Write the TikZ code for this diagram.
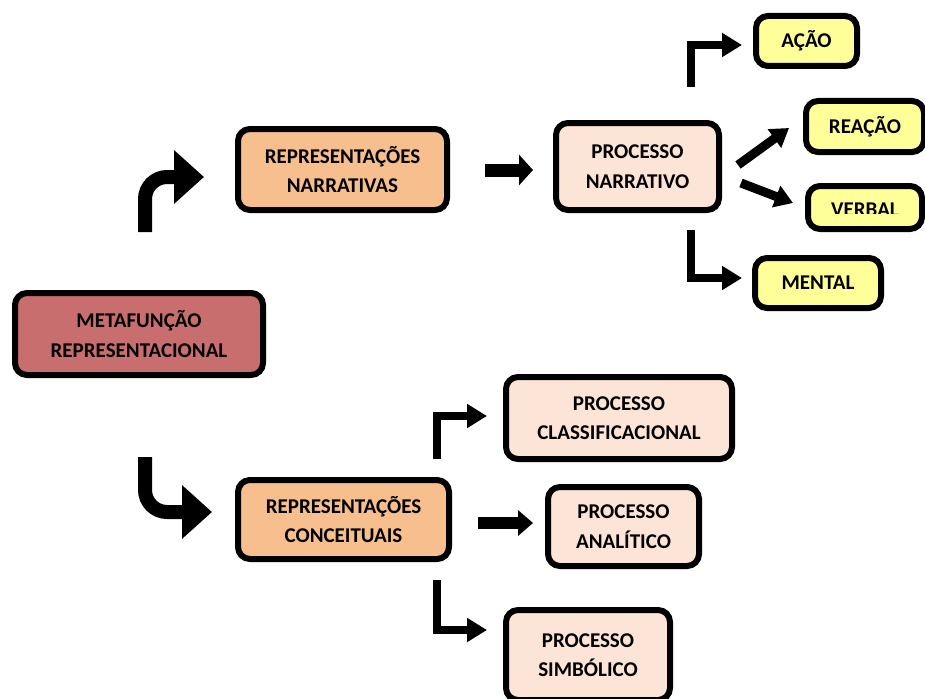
\documentclass[tikz,border=0pt]{standalone}
\usepackage{fontspec}
\setmainfont{Carlito}
\usetikzlibrary{arrows.meta}

\definecolor{metared}{HTML}{C86E6E}
\definecolor{peach}{HTML}{F7BE8E}
\definecolor{palepeach}{HTML}{FCE4D6}
\definecolor{paleyellow}{HTML}{FFFF99}

\tikzset{
  box/.style={draw=black, line width=6pt, rounded corners=12pt, align=center,
    inner sep=0pt, text=black, font=\bfseries\fontsize{21}{29.5}\selectfont},
  label text/.style={inner sep=0pt, text=black, font=\bfseries\fontsize{21}{29.5}\selectfont},
  bigcurve/.style={line width=14pt, rounded corners=22pt,
    -{Triangle[length=30pt,width=52pt]}},
  blockarrow/.style={line width=13pt, -{Triangle[length=14pt,width=30pt]}},
  bent/.style={line width=8.5pt, -{Triangle[length=20pt,width=23pt]}},
  diag/.style={line width=9pt, -{Triangle[length=18pt,width=22pt]}},
}

\begin{document}
\begin{tikzpicture}[x=1pt,y=-1pt, line join=miter]
\useasboundingbox (0,0) rectangle (925,698);
\clip (0,0) rectangle (925,698);

% main box
\node[box, fill=metared, minimum width=248pt, minimum height=82pt] (meta) at (139,334)
  {METAFUNÇÃO\\REPRESENTACIONAL};

% narrative branch
\node[box, fill=peach, minimum width=209pt, minimum height=81pt] (narr) at (342.5,169.5)
  {REPRESENTAÇÕES\\NARRATIVAS};
\node[box, fill=palepeach, minimum width=163pt, minimum height=87pt] (pnarr) at (637.5,166.5)
  {PROCESSO\\NARRATIVO};
\node[box, fill=paleyellow, minimum width=101pt, minimum height=50pt] (acao) at (806.5,41)
  {AÇÃO};
\node[box, fill=paleyellow, minimum width=118pt, minimum height=51pt] (reacao) at (865,126.5)
  {REAÇÃO};
\node[box, fill=paleyellow, minimum width=114pt, minimum height=43pt] (verbal) at (865,207.5) {};
% the label of this box is cut off along its lower edge
\begin{scope}
  \clip (805,183) rectangle (925,213.8);
  \node[label text, anchor=base] (verbaltext) at (865,216.8) {VERBAL};
\end{scope}
\node[box, fill=paleyellow, minimum width=126pt, minimum height=50pt] (mental) at (818,283)
  {MENTAL};

% conceptual branch
\node[box, fill=peach, minimum width=211pt, minimum height=79pt] (conc) at (343.5,519.5)
  {REPRESENTAÇÕES\\CONCEITUAIS};
\node[box, fill=palepeach, minimum width=226pt, minimum height=82pt] (pclass) at (619,418)
  {PROCESSO\\CLASSIFICACIONAL};
\node[box, fill=palepeach, minimum width=151pt, minimum height=79pt] (panal) at (623.5,526.5)
  {PROCESSO\\ANALÍTICO};
\node[box, fill=palepeach, minimum width=164pt, minimum height=90pt] (psimb) at (588,655)
  {PROCESSO\\SIMBÓLICO};

% arrow end points
\coordinate (up0) at (145,232);    \coordinate (up1) at (204,177);
\coordinate (dn0) at (145,457);    \coordinate (dn1) at (212,512);
\coordinate (n0) at (485,170);     \coordinate (n1) at (533,170);
\coordinate (a0) at (691,87);      \coordinate (a1) at (742,45);
\coordinate (r0) at (738,165);     \coordinate (r1) at (789,128);
\coordinate (v0) at (741,183);     \coordinate (v1) at (793,203);
\coordinate (m0) at (691,230);     \coordinate (m1) at (742,278);
\coordinate (c0) at (437,459);     \coordinate (c1) at (487,416);
\coordinate (an0) at (478,523);    \coordinate (an1) at (533,523);
\coordinate (s0) at (437,580);     \coordinate (s1) at (487,630);

% arrows
\draw[bigcurve] (up0) |- (up1);
\draw[bigcurve] (dn0) |- (dn1);
\draw[blockarrow] (n0) -- (n1);
\draw[bent] (a0) |- (a1);
\draw[diag] (r0) -- (r1);
\draw[diag] (v0) -- (v1);
\draw[bent] (m0) |- (m1);
\draw[bent] (c0) |- (c1);
\draw[blockarrow, line width=12pt, -{Triangle[length=15pt,width=25pt]}] (an0) -- (an1);
\draw[bent] (s0) |- (s1);
\end{tikzpicture}
\end{document}
